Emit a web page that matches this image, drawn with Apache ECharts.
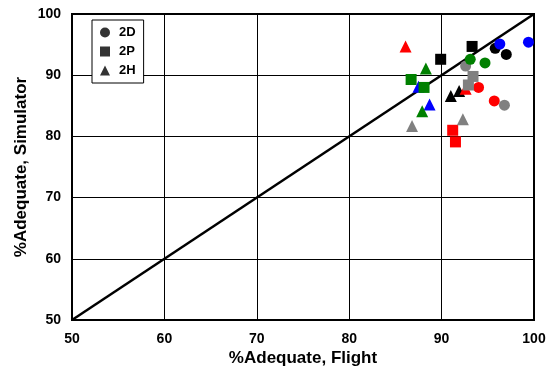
<!DOCTYPE html>
<html>
<head>
<meta charset="utf-8">
<script src="https://cdn.jsdelivr.net/npm/echarts@6/dist/echarts.min.js"></script>
<style>
  html, body { margin: 0; padding: 0; background: #fff; }
  #chart { width: 550px; height: 369px; }
</style>
</head>
<body>
<div id="chart"></div>
<script>
// Axis ticks (both axes share the same range)
const axisTicks = [50, 60, 70, 80, 90, 100];

// Line of agreement: simulator = flight
const diagonal = [[50, 50], [100, 100]];

// Point pairs [flight %, simulator %] per task type (symbol) and group (colour)
const circles2D = {
  black: [[95.8, 94.4], [97.0, 93.4]],
  red:   [[94.0, 88.0], [95.7, 85.8]],
  blue:  [[96.3, 95.1], [99.4, 95.4]],
  gray:  [[92.6, 91.5], [96.8, 85.1]],
  green: [[93.1, 92.6], [94.7, 92.0]]
};
const squares2P = {
  black: [[89.9, 92.6], [93.3, 94.7]],
  red:   [[91.2, 81.0], [91.5, 79.1]],
  blue:  [],
  gray:  [[93.4, 89.8], [92.9, 88.4]],
  green: [[86.7, 89.3], [88.1, 88.0]]
};
const triangles2H = {
  black: [[91.0, 86.6], [91.9, 87.4]],
  red:   [[86.1, 94.7], [92.6, 87.8]],
  blue:  [[88.7, 85.2], [87.5, 88.1]],
  gray:  [[86.8, 81.7], [92.3, 82.8]],
  green: [[88.3, 91.1], [87.9, 84.1]]
};

const legendNames = ['2D', '2P', '2H'];
const groupOrder = ['black', 'red', 'blue', 'gray', 'green'];
const palette = {
  black: '#000000',
  red: '#ff0000',
  blue: '#0000ff',
  gray: '#808080',
  green: '#008000'
};

const chart = echarts.init(document.getElementById('chart'), null, { renderer: 'canvas' });

const series = [];

// Legend entries (black symbols)
const legendIcons = { '2D': 'circle', '2P': 'rect', '2H': 'triangle' };
legendNames.forEach(name => {
  series.push({
    name: name,
    type: 'scatter',
    data: [],
    symbol: legendIcons[name],
    itemStyle: { color: '#000' }
  });
});

// Agreement line
series.push({
  type: 'line',
  data: diagonal,
  symbol: 'none',
  silent: true,
  z: 2,
  lineStyle: { color: '#000', width: 2.5 }
});

// Points, drawn group by group so later groups sit on top
groupOrder.forEach((g, gi) => {
  const sets = [
    { data: circles2D[g], symbol: 'circle', size: 11 },
    { data: squares2P[g], symbol: 'rect', size: 11 },
    { data: triangles2H[g], symbol: 'triangle', size: 12 }
  ];
  sets.forEach(s => {
    if (!s.data.length) return;
    series.push({
      type: 'scatter',
      data: s.data,
      symbol: s.symbol,
      symbolSize: s.size,
      z: 3 + gi,
      silent: true,
      itemStyle: { color: palette[g], opacity: 1 }
    });
  });
});

const axisCommon = {
  min: axisTicks[0],
  max: axisTicks[axisTicks.length - 1],
  interval: 10,
  nameLocation: 'middle',
  nameMoveOverlap: false,
  nameTextStyle: {
    fontFamily: 'Liberation Sans, Arial, sans-serif',
    fontWeight: 'bold',
    fontSize: 17,
    color: '#000'
  },
  axisLine: { show: true, lineStyle: { color: '#000', width: 2 } },
  axisTick: { show: false },
  axisLabel: {
    fontFamily: 'Liberation Sans, Arial, sans-serif',
    fontWeight: 'bold',
    fontSize: 14,
    color: '#000'
  },
  splitLine: { show: true, lineStyle: { color: '#000', width: 1 } }
};

chart.setOption({
  animation: false,
  backgroundColor: '#fff',
  grid: {
    left: 72, right: 16, top: 14, bottom: 49,
    outerBoundsMode: 'none',
    containLabel: false,
    show: true,
    borderColor: '#000',
    borderWidth: 2,
    backgroundColor: 'transparent'
  },
  legend: {
    data: legendNames.map(n => ({ name: n, icon: legendIcons[n] })),
    orient: 'vertical',
    left: 92,
    top: 20,
    itemWidth: 10,
    itemHeight: 10,
    itemGap: 6,
    padding: [6, 8, 6, 8],
    backgroundColor: '#fff',
    borderColor: '#000',
    borderWidth: 1,
    borderRadius: 0,
    selectedMode: false,
    textStyle: {
      fontFamily: 'Liberation Sans, Arial, sans-serif',
      fontWeight: 'bold',
      fontSize: 13,
      color: '#000',
      padding: [0, 0, 0, 4]
    }
  },
  xAxis: Object.assign({}, axisCommon, {
    type: 'value',
    name: '%Adequate, Flight',
    nameGap: 30,
    axisLabel: Object.assign({}, axisCommon.axisLabel, { margin: 12 })
  }),
  yAxis: Object.assign({}, axisCommon, {
    type: 'value',
    name: '%Adequate, Simulator',
    nameGap: 42,
    axisLabel: Object.assign({}, axisCommon.axisLabel, { margin: 11 })
  }),
  series: series
});
</script>
</body>
</html>
